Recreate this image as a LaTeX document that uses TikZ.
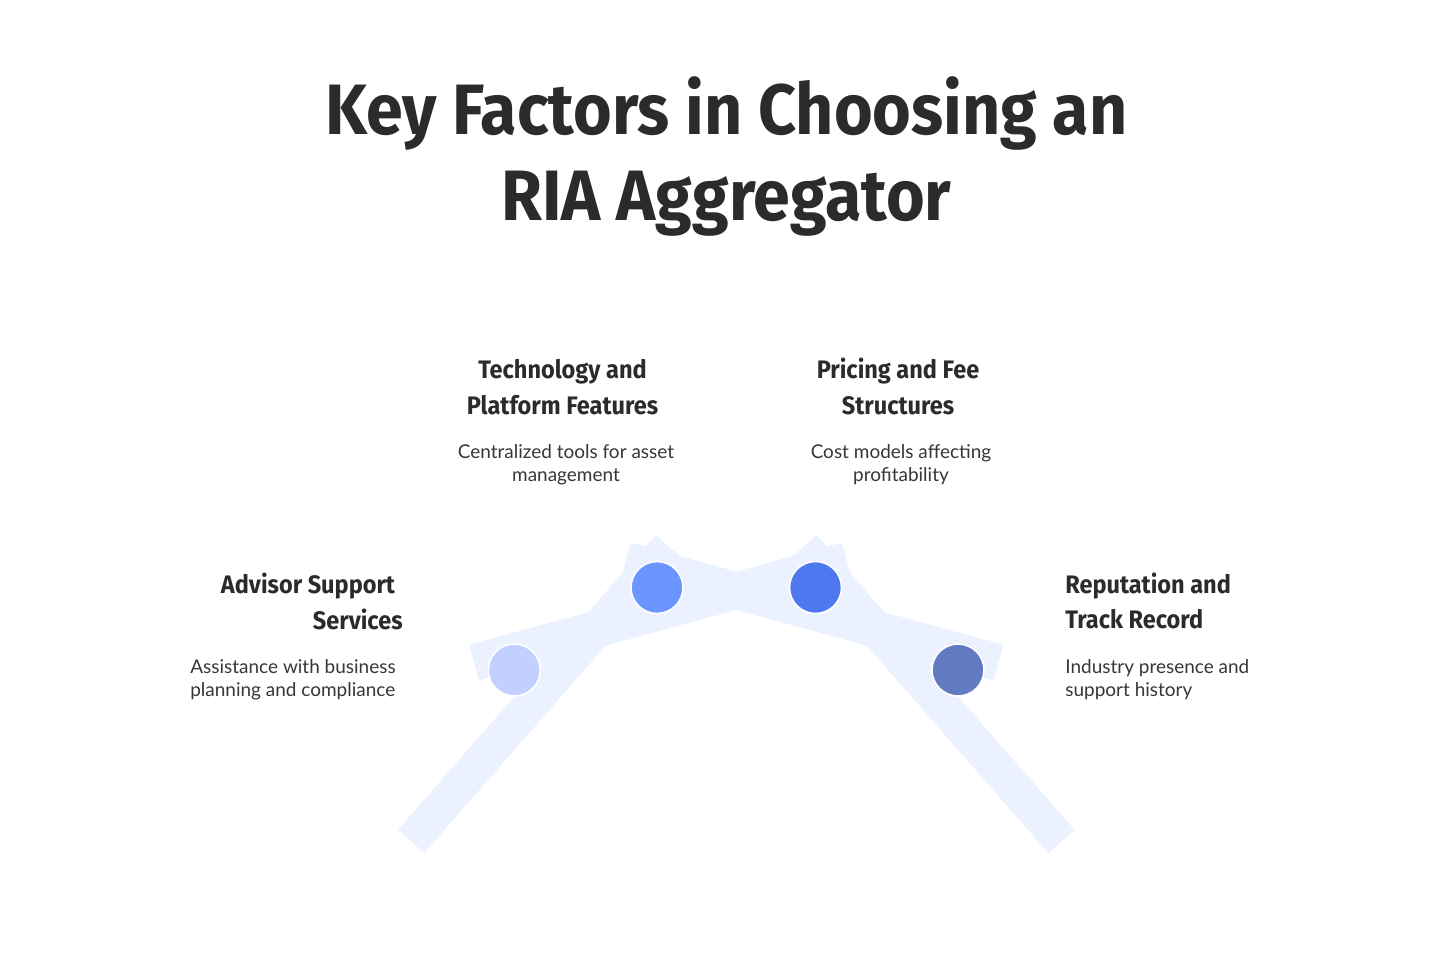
\documentclass[tikz,border=0pt]{standalone}
\usepackage{fontspec}
\setmainfont{Lato}
\newfontfamily\headfont[FakeStretch=0.93]{Fira Sans}
\usetikzlibrary{positioning}
\definecolor{barblue}{RGB}{235,241,254}
\definecolor{dotone}{RGB}{193,208,254}
\definecolor{dottwo}{RGB}{108,150,255}
\definecolor{dotthree}{RGB}{77,121,240}
\definecolor{dotfour}{RGB}{98,122,194}
\definecolor{inkdark}{RGB}{43,43,43}
\definecolor{inkgray}{RGB}{55,55,55}

\begin{document}
\begin{tikzpicture}[x=0.02cm, y=-0.02cm,
    bar/.style={draw=barblue, line cap=butt},
    dot/.style={circle, draw=white, line width=0.9pt, minimum size=1.04cm, inner sep=0pt},
    headline/.style={font=\headfont\bfseries\fontsize{14.4}{20.2}\selectfont, text=inkdark, inner sep=0pt},
    blurb/.style={font=\fontsize{10.8}{12.6}\selectfont, text=inkgray, inner sep=0pt}]
    \fill[white] (0,0) rectangle (1450,957);
    \useasboundingbox (0,0) rectangle (1450,957);

    % title
    \node[anchor=base, align=center, inner sep=0pt, text=inkdark,
      font=\headfont\bfseries\fontsize{40.6}{49}\selectfont] (title) at (726.5,220.7)
      {Key Factors in Choosing an\\RIA Aggregator};

    % the bridge
    \coordinate (la0) at (411.2,841.3);
    \coordinate (la1) at (668.9,546.6);
    \coordinate (ra0) at (1061.4,841.3);
    \coordinate (ra1) at (803.6,546.6);
    \coordinate (lb0) at (474.1,662.5);
    \coordinate (lb1) at (846.7,560.6);
    \coordinate (rb0) at (998.5,662.5);
    \coordinate (rb1) at (625.9,560.6);
    \draw[bar, line width=0.70cm] (la0) -- (la1);
    \draw[bar, line width=0.70cm] (ra0) -- (ra1);
    \draw[bar, line width=0.74cm] (lb0) -- (lb1);
    \draw[bar, line width=0.74cm] (rb0) -- (rb1);

    \node[dot, fill=dotone] (advisor) at (514.3,670) {};
    \node[dot, fill=dottwo] (tech) at (657,587.5) {};
    \node[dot, fill=dotthree] (pricing) at (815.5,587.5) {};
    \node[dot, fill=dotfour] (reputation) at (958,670) {};

    % labels
    \node[headline, anchor=base, align=center] (techhead) at (562.5,414)
      {Technology and\\Platform Features};
    \node[blurb, anchor=base, align=center] (techtext) at (566,481)
      {Centralized tools for asset\\management};

    \node[headline, anchor=base, align=center] (pricehead) at (898,414)
      {Pricing and Fee\\Structures};
    \node[blurb, anchor=base, align=center] (pricetext) at (901,481)
      {Cost models affecting\\profitability};

    \node[headline, anchor=base east, align=right] (advhead) at (403,629)
      {Advisor Support\hspace*{0.3em}\\Services};
    \node[blurb, anchor=base west, align=left] (advtext) at (190,696)
      {Assistance with business\\planning and compliance};

    \node[headline, anchor=base west, align=left] (rephead) at (1065,628.5)
      {Reputation and\\Track Record};
    \node[blurb, anchor=base west, align=left] (reptext) at (1065,696)
      {Industry presence and\\support history};
  \end{tikzpicture}
\end{document}
